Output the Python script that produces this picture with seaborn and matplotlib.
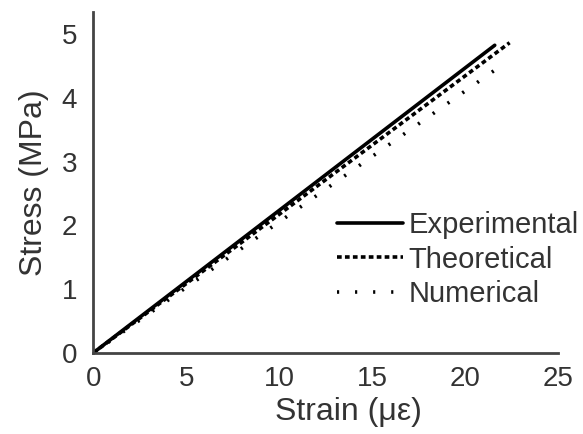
import numpy as np
import matplotlib.pyplot as plt
import seaborn as sns
import pandas as pd

# values (start and end of each straight line)
series = ['Experimental', 'Theoretical', 'Numerical']
strain_end = [21.6, 22.4, 21.8]
stress_end = [4.83, 4.87, 4.48]

x_ticks = [0, 5, 10, 15, 20, 25]
y_ticks = [0, 1, 2, 3, 4, 5]

rows = []
for name, xe, ye in zip(series, strain_end, stress_end):
    rows.append({'Strain': 0.0, 'Stress': 0.0, 'Series': name})
    rows.append({'Strain': xe, 'Stress': ye, 'Series': name})
df = pd.DataFrame(rows)

sns.set_style('white')
plt.rcParams['font.family'] = ['Liberation Sans', 'DejaVu Sans']

fig = plt.figure(figsize=(5.83, 4.34), dpi=100)
ax = fig.add_axes([0.160, 0.187, 0.797, 0.785])

sns.lineplot(data=df, x='Strain', y='Stress', style='Series', color='black',
             dashes={'Experimental': '', 'Theoretical': (1.3, 0.9),
                     'Numerical': (0.6, 4.4)},
             linewidth=2.6, ax=ax, sort=False)

ax.set_xlim(0, 25)
ax.set_ylim(0, 5.35)
ax.set_xticks(x_ticks)
ax.set_yticks(y_ticks)
ax.tick_params(length=0, labelsize=20, colors='#333333')
ax.tick_params(axis='x', pad=9.5)
ax.tick_params(axis='y', pad=11.5)
ax.set_xlabel('Strain (με)', fontsize=23, color='#333333', labelpad=3.5, x=0.55)
ax.set_ylabel('Stress (MPa)', fontsize=23, color='#333333', labelpad=9)

for side in ['top', 'right']:
    ax.spines[side].set_visible(False)
for side in ['left', 'bottom']:
    ax.spines[side].set_color('#444444')
    ax.spines[side].set_linewidth(2)

ax.legend(frameon=False, loc='upper left', bbox_to_anchor=(0.5, 0.45),
          borderaxespad=0, fontsize=21, handlelength=2.25, handletextpad=0.2,
          labelspacing=0.22, labelcolor='#333333')

fig.savefig('out.png', dpi=100)
